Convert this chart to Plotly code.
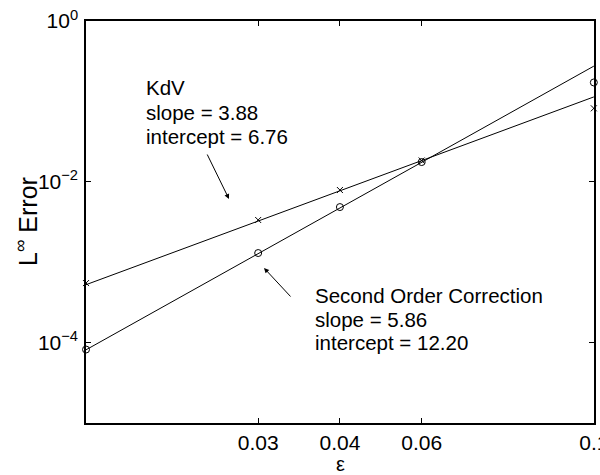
import plotly.graph_objects as go

# data
eps = [0.025, 0.04, 0.05, 0.0625, 0.1]
kdv_err = [5.5e-4, 3.35e-3, 7.9e-3, 0.0184, 0.082]
soc_err = [8.2e-5, 1.3e-3, 4.85e-3, 0.0176, 0.172]
kdv_fit = [5.25e-4, 3.25e-3, 7.72e-3, 0.01835, 0.1137]
soc_fit = [8.13e-5, 1.279e-3, 4.72e-3, 0.01747, 0.2745]

x_tickvals = [0.04, 0.05, 0.0625, 0.1]
x_ticktext = ["0.03", "0.04", "0.06", "0.1"]
y_tickvals = [1, 1e-2, 1e-4]
y_ticktext = ["10<sup>0</sup>", "10<sup>−2</sup>", "10<sup>−4</sup>"]

kdv_text = ["KdV", "slope = 3.88", "intercept = 6.76"]
soc_text = ["Second Order Correction", "slope = 5.86", "intercept = 12.20"]

FONT = "Liberation Sans, Arial, sans-serif"

fig = go.Figure()
fig.add_trace(go.Scatter(x=eps, y=kdv_fit, mode="lines",
                         line=dict(color="black", width=1), showlegend=False))
fig.add_trace(go.Scatter(x=eps, y=soc_fit, mode="lines",
                         line=dict(color="black", width=1), showlegend=False))
fig.add_trace(go.Scatter(x=eps, y=kdv_err, mode="markers", cliponaxis=False,
                         marker=dict(symbol="x-thin-open", size=6, color="black",
                                     line=dict(color="black", width=1)),
                         showlegend=False))
fig.add_trace(go.Scatter(x=eps, y=soc_err, mode="markers", cliponaxis=False,
                         marker=dict(symbol="circle-open", size=7, color="black",
                                     line=dict(color="black", width=1)),
                         showlegend=False))

axis_common = dict(showline=True, linecolor="black", linewidth=1.5, mirror="ticks",
                   ticks="inside", ticklen=5, tickwidth=1, tickcolor="black",
                   showgrid=False, zeroline=False, ticklabeloverflow="allow",
                   automargin=False,
                   tickfont=dict(family=FONT, size=21, color="black"))

fig.update_xaxes(type="log", range=[-1.60206, -0.9998], tickmode="array",
                 tickvals=x_tickvals, ticktext=x_ticktext, **axis_common)
fig.update_yaxes(type="log", range=[-5, 0], tickmode="array",
                 tickvals=y_tickvals, ticktext=y_ticktext, ticklabelstandoff=2,
                 **axis_common)

L, R, T, B = 86, 6, 21, 52
W, H = 600, 475
pw, ph = W - L - R, H - T - B

def px(x):
    return (x - L) / pw

def py(y):
    return (H - B - y) / ph

annots = []
# text blocks, one annotation per line (baselines)
for t, base in zip(kdv_text, [95, 119, 143]):
    annots.append(dict(text=t, x=px(145), y=py(base - 7), xanchor="left",
                       yanchor="middle", showarrow=False))
for t, base in zip(soc_text, [302, 326, 349]):
    annots.append(dict(text=t, x=px(314), y=py(base - 7), xanchor="left",
                       yanchor="middle", showarrow=False))
annots += [
    dict(text="", x=px(229), y=py(199), ax=-22, ay=-45, showarrow=True,
         arrowhead=2, arrowsize=1, arrowwidth=1, arrowcolor="black"),
    dict(text="", x=px(264), y=py(268), ax=27, ay=29, showarrow=True,
         arrowhead=2, arrowsize=1, arrowwidth=1, arrowcolor="black"),
    dict(text="L<sup>∞</sup> Error", x=px(26), y=0.5, textangle=-90,
         xanchor="center", yanchor="middle", showarrow=False,
         font=dict(family=FONT, size=25, color="black")),
    dict(text="ε", x=0.5, y=py(464), xanchor="center", yanchor="middle",
         showarrow=False, font=dict(family=FONT, size=20, color="black")),
]
for a in annots:
    a.setdefault("xref", "paper")
    a.setdefault("yref", "paper")
    a.setdefault("font", dict(family=FONT, size=20.5, color="black"))
    a["borderpad"] = 0
    fig.add_annotation(**a)

fig.update_layout(width=W, height=H, margin=dict(l=L, r=R, t=T, b=B, autoexpand=False),
                  paper_bgcolor="white", plot_bgcolor="white",
                  font=dict(family=FONT, color="black"))

fig.write_html("out.html")
